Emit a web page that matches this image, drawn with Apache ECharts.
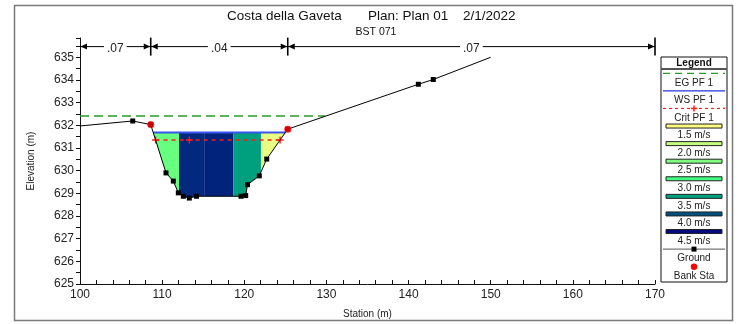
<!DOCTYPE html>
<html>
<head>
<meta charset="utf-8">
<script src="https://cdn.jsdelivr.net/npm/echarts@6/dist/echarts.min.js"></script>
<style>
html, body { margin: 0; padding: 0; background: #fff; }
#chart { width: 740px; height: 324px; }
</style>
</head>
<body>
<div id="chart"></div>
<script>
// Cross section BST 071 — ground survey points
const groundStation = [100, 106.42, 108.61, 110.47, 111.36, 111.97, 112.58, 113.31, 114.18, 119.6, 120.17, 120.39, 121.83, 122.73, 125.29, 141.19, 143.01, 150];
const groundElev    = [631.97, 632.19, 632.03, 629.9, 629.54, 629.02, 628.87, 628.79, 628.87, 628.87, 628.9, 629.38, 629.77, 630.51, 631.83, 633.81, 634.02, 635.0];

// Bank stations
const bankStation = [108.61, 125.29];
const bankElev    = [632.03, 631.83];

// Profile PF 1 results
const egElev = 632.41;
const egStation = [100, 129.85];
const wsElev = 631.68;
const critElev = 631.35;
const critStation = [109.2, 113.31, 124.36];

// Velocity distribution strips across the wetted section
const stripBounds = [108.92, 112.05, 115.2, 118.66, 122.03, 125.0];
const stripColors = ['#66ff80', '#03297f', '#01237b', '#00a07f', '#e8ff84'];

// Manning's n regions
const nBounds = [100, 108.61, 125.29, 170];
const nValues = ['.07', '.04', '.07'];

// Legend entries
const legendLabels = ['EG PF 1', 'WS PF 1', 'Crit PF 1', '1.5 m/s', '2.0 m/s', '2.5 m/s', '3.0 m/s', '3.5 m/s', '4.0 m/s', '4.5 m/s', 'Ground', 'Bank Sta'];
const velocityColors = ['#ffff80', '#c4ff80', '#80ff80', '#40ff80', '#00a080', '#005080', '#000c80'];

const FONT = '"Liberation Sans", Arial, sans-serif';
const nElev = 635.47;

function groundAt(s) {
  for (let i = 0; i < groundStation.length - 1; i++) {
    const a = groundStation[i], b = groundStation[i + 1];
    if (s >= a && s <= b) {
      const t = (s - a) / (b - a);
      return groundElev[i] + t * (groundElev[i + 1] - groundElev[i]);
    }
  }
  return groundElev[groundElev.length - 1];
}

const chart = echarts.init(document.getElementById('chart'), null, { renderer: 'canvas' });

const groundData = groundStation.map((s, i) => {
  const item = { value: [s, groundElev[i]] };
  if (i === 0 || i === groundStation.length - 1) item.symbol = 'none';
  return item;
});

const plusPath = 'path://M4,0H6V4H10V6H6V10H4V6H0V4H4Z';

// legend graphic
const lgX = 661, lgY = 57, lgW = 66, lgH = 225;
const lgStep = 17.58, lgFirst = 73.3;
const legendGraphics = [
  { type: 'rect', shape: { x: lgX, y: lgY, width: lgW, height: lgH }, style: { fill: '#fff', stroke: '#111', lineWidth: 1 } },
  { type: 'text', x: lgX + lgW / 2, y: 63.5, style: { text: 'Legend', font: 'bold 10px ' + FONT, fill: '#111', align: 'center', verticalAlign: 'middle' } },
  { type: 'line', shape: { x1: lgX, y1: 69, x2: lgX + lgW, y2: 69 }, style: { stroke: '#555', lineWidth: 2 } }
];
legendLabels.forEach((label, i) => {
  const sy = lgFirst + i * lgStep;
  const cx = lgX + lgW / 2;
  if (i === 0) {
    legendGraphics.push({ type: 'line', shape: { x1: lgX + 2, y1: sy, x2: lgX + lgW - 2, y2: sy }, style: { stroke: '#2a9a2a', lineWidth: 1.2, lineDash: [7, 5] } });
  } else if (i === 1) {
    legendGraphics.push({ type: 'line', shape: { x1: lgX + 2, y1: sy, x2: lgX + lgW - 2, y2: sy }, style: { stroke: '#2233dd', lineWidth: 1.2 } });
  } else if (i === 2) {
    legendGraphics.push({ type: 'line', shape: { x1: lgX + 2, y1: sy, x2: lgX + lgW - 2, y2: sy }, style: { stroke: '#ff2020', lineWidth: 1.2, lineDash: [3, 3] } });
    legendGraphics.push({ type: 'line', shape: { x1: cx - 3, y1: sy, x2: cx + 3, y2: sy }, style: { stroke: '#ff2020', lineWidth: 1.5 } });
    legendGraphics.push({ type: 'line', shape: { x1: cx, y1: sy - 3, x2: cx, y2: sy + 3 }, style: { stroke: '#ff2020', lineWidth: 1.5 } });
  } else if (i >= 3 && i <= 9) {
    legendGraphics.push({ type: 'rect', shape: { x: lgX + 5, y: sy - 2, width: lgW - 10, height: 4 }, style: { fill: velocityColors[i - 3], stroke: '#222', lineWidth: 1 } });
  } else if (i === 10) {
    legendGraphics.push({ type: 'line', shape: { x1: lgX + 2, y1: sy, x2: lgX + lgW - 2, y2: sy }, style: { stroke: '#555', lineWidth: 1 } });
    legendGraphics.push({ type: 'rect', shape: { x: cx - 2.5, y: sy - 2.5, width: 5, height: 5 }, style: { fill: '#000' } });
  } else {
    legendGraphics.push({ type: 'circle', shape: { cx: cx, cy: sy, r: 3.2 }, style: { fill: '#ff0000' } });
  }
  legendGraphics.push({ type: 'text', x: cx, y: sy + 9.5, style: { text: label, font: '10px ' + FONT, fill: '#222', align: 'center', verticalAlign: 'middle' } });
});

const option = {
  animation: false,
  backgroundColor: '#fff',
  grid: { left: 80, right: 85, top: 38, bottom: 40 },
  xAxis: {
    type: 'value', min: 100, max: 170, interval: 10,
    name: 'Station (m)', nameLocation: 'middle', nameGap: 25,
    nameTextStyle: { fontFamily: FONT, fontSize: 10, color: '#222' },
    axisLine: { show: true, lineStyle: { color: '#111', width: 1 } },
    axisTick: { show: true, inside: true, length: 4, lineStyle: { color: '#111' } },
    minorTick: { show: true, splitNumber: 5, length: 4, lineStyle: { color: '#111' } },
    axisLabel: { fontFamily: FONT, fontSize: 12, color: '#222', margin: 5 },
    splitLine: { show: false }
  },
  yAxis: {
    type: 'value', min: 625, max: 635.85, interval: 1,
    name: 'Elevation (m)', nameLocation: 'middle', nameGap: 44,
    nameTextStyle: { fontFamily: FONT, fontSize: 10, color: '#222' },
    axisLine: { show: true, lineStyle: { color: '#111', width: 1 } },
    axisTick: { show: true, inside: false, length: 4, lineStyle: { color: '#111' } },
    minorTick: { show: true, splitNumber: 2, length: 4, lineStyle: { color: '#111' } },
    axisLabel: {
      fontFamily: FONT, fontSize: 12, color: '#222', margin: 6, showMaxLabel: false,
      formatter: v => (Math.abs(v - Math.round(v)) < 1e-6 ? String(Math.round(v)) : '')
    },
    splitLine: { show: false }
  },
  graphic: [
    { type: 'rect', shape: { x: 14.5, y: 5.5, width: 718, height: 315 }, style: { fill: 'none', stroke: '#7a7a7a', lineWidth: 1.5 }, z: 100 },
    { type: 'text', x: 227, y: 16, style: { text: 'Costa della Gaveta', font: '13.5px ' + FONT, fill: '#111', verticalAlign: 'middle' } },
    { type: 'text', x: 368, y: 16, style: { text: 'Plan: Plan 01', font: '13.5px ' + FONT, fill: '#111', verticalAlign: 'middle' } },
    { type: 'text', x: 463, y: 16, style: { text: '2/1/2022', font: '13.5px ' + FONT, fill: '#111', verticalAlign: 'middle' } },
    { type: 'text', x: 376, y: 32, style: { text: 'BST 071', font: '10.5px ' + FONT, fill: '#111', align: 'center', verticalAlign: 'middle' } }
  ].concat(legendGraphics),
  series: [
    {
      // velocity strips, top at WS and bottom following the ground
      type: 'custom',
      z: 1,
      data: stripColors.map((c, i) => [stripBounds[i], stripBounds[i + 1]]),
      renderItem: (params, api) => {
        const i = params.dataIndex;
        const a = stripBounds[i], b = stripBounds[i + 1];
        const pts = [api.coord([a, wsElev]), api.coord([b, wsElev]), api.coord([b, Math.min(groundAt(b), wsElev)])];
        for (let k = groundStation.length - 1; k >= 0; k--) {
          const s = groundStation[k];
          if (s > a && s < b) pts.push(api.coord([s, groundElev[k]]));
        }
        pts.push(api.coord([a, Math.min(groundAt(a), wsElev)]));
        return { type: 'polygon', shape: { points: pts }, style: { fill: stripColors[i] } };
      }
    },
    {
      // Manning's n extents above the section
      type: 'custom',
      z: 5,
      clip: false,
      data: nValues.map((v, i) => [nBounds[i], nBounds[i + 1]]),
      renderItem: (params, api) => {
        const i = params.dataIndex;
        const p1 = api.coord([nBounds[i], nElev]);
        const p2 = api.coord([nBounds[i + 1], nElev]);
        const y = p1[1];
        const ah = 7, aw = 3;
        return {
          type: 'group',
          children: [
            { type: 'line', shape: { x1: p1[0], y1: y, x2: p2[0], y2: y }, style: { stroke: '#000', lineWidth: 1 } },
            { type: 'polygon', shape: { points: [[p1[0] + 0.5, y], [p1[0] + ah, y - aw], [p1[0] + ah, y + aw]] }, style: { fill: '#000' } },
            { type: 'polygon', shape: { points: [[p2[0] - 0.5, y], [p2[0] - ah, y - aw], [p2[0] - ah, y + aw]] }, style: { fill: '#000' } },
            { type: 'line', shape: { x1: p2[0], y1: y - 9, x2: p2[0], y2: y + 9 }, style: { stroke: '#000', lineWidth: 1.6 } },
            { type: 'text', x: (p1[0] + p2[0]) / 2, y: y + 2, style: { text: nValues[i], font: '12px ' + FONT, fill: '#222', align: 'center', verticalAlign: 'middle', backgroundColor: '#fff', padding: [0, 3] } }
          ]
        };
      }
    },
    {
      name: 'EG PF 1', type: 'line', z: 3, symbol: 'none',
      data: egStation.map(s => [s, egElev]),
      lineStyle: { color: '#2a9a2a', width: 1.5, type: [9, 5] }
    },
    {
      name: 'WS PF 1', type: 'line', z: 3, symbol: 'none',
      data: [[stripBounds[0], wsElev], [stripBounds[stripBounds.length - 1], wsElev]],
      lineStyle: { color: '#3a55ee', width: 2 }
    },
    {
      name: 'Crit PF 1', type: 'line', z: 4,
      symbol: plusPath, symbolSize: 7,
      itemStyle: { color: '#ff1a1a' },
      data: critStation.map(s => [s, critElev]),
      lineStyle: { color: '#ff1a1a', width: 1.5, type: [4, 4] }
    },
    {
      name: 'Ground', type: 'line', z: 6,
      symbol: 'rect', symbolSize: 5,
      itemStyle: { color: '#000' },
      lineStyle: { color: '#000', width: 1 },
      data: groundData
    },
    {
      name: 'Bank Sta', type: 'scatter', z: 7,
      symbol: 'circle', symbolSize: 7,
      itemStyle: { color: '#ff0000' },
      data: bankStation.map((s, i) => [s, bankElev[i]])
    }
  ]
};

chart.setOption(option);
</script>
</body>
</html>
